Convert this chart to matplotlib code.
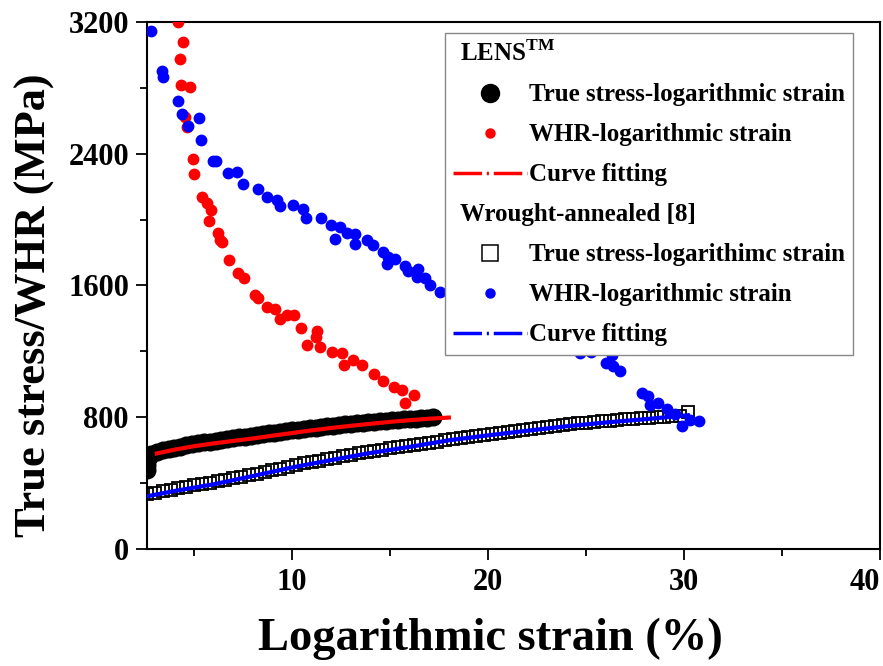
import matplotlib
matplotlib.use('Agg')
import matplotlib.pyplot as plt
from matplotlib.lines import Line2D
from matplotlib.ticker import MultipleLocator
from matplotlib.transforms import ScaledTranslation

plt.rcParams['font.family'] = ['Liberation Serif', 'DejaVu Serif']
plt.rcParams['font.weight'] = 'bold'
plt.rcParams['axes.labelweight'] = 'bold'
plt.rcParams['mathtext.fontset'] = 'custom'
plt.rcParams['mathtext.rm'] = 'Liberation Serif:bold'
plt.rcParams['mathtext.bf'] = 'Liberation Serif:bold'

# LENS: true stress - logarithmic strain (dense band of points)
lens_strain = [2.6, 2.6, 2.62, 2.68, 2.8, 3.1, 3.4, 3.7, 4.0, 4.3, 4.6, 4.9, 5.2, 5.5, 5.8,
               6.1, 6.4, 6.7, 7.0, 7.3, 7.6, 7.9, 8.2, 8.5, 8.8, 9.1, 9.4, 9.7, 10.0, 10.3,
               10.6, 10.9, 11.2, 11.5, 11.8, 12.1, 12.4, 12.7, 13.0, 13.3, 13.6, 13.9, 14.2,
               14.5, 14.8, 15.1, 15.4, 15.7, 16.0, 16.3, 16.6, 16.9, 17.2]
lens_stress = [480, 510, 540, 560, 578, 590, 598, 606, 614, 621, 629, 636, 641, 647, 652,
               657, 662, 667, 673, 678, 683, 688, 693, 697, 702, 707, 712, 716, 721, 725,
               729, 733, 737, 741, 745, 749, 752, 756, 759, 763, 766, 769, 772,
               775, 778, 781, 784, 787, 789, 792, 794, 797, 799]

# LENS: work hardening rate
lens_whr_strain = [4.17, 4.42, 4.30, 4.34, 4.80, 4.54, 4.63, 4.93, 5.02, 5.39, 5.64, 5.87, 5.77,
                   6.24, 6.33, 6.41, 6.79, 7.26, 7.57, 8.11, 8.28, 8.71, 9.13, 9.39, 9.73,
                   10.10, 10.46, 11.26, 11.21, 10.75, 11.43, 12.06, 12.54, 12.65, 13.13, 13.56,
                   14.18, 14.66, 15.20, 15.60, 15.77, 16.22]
lens_whr = [3200, 3080, 2975, 2820, 2805, 2625, 2565, 2370, 2275, 2135, 2098, 2057, 1990,
            1916, 1875, 1865, 1755, 1673, 1647, 1541, 1521, 1470, 1459, 1398, 1423,
            1419, 1343, 1321, 1290, 1236, 1226, 1199, 1187, 1120, 1148, 1120,
            1063, 1022, 981, 967, 889, 934]

# LENS: curve fitting
lens_fit_strain = [3.1, 4, 5, 6, 7, 8, 9, 10, 11, 12, 13, 14, 15, 16, 17, 18]
lens_fit = [580, 603, 624, 641, 656, 671, 688, 704, 720, 735, 748, 760, 772, 782, 791, 798]

# Wrought-annealed: true stress - logarithmic strain
wrought_strain = [2.6, 3.0, 3.4, 3.8, 4.2, 4.6, 5.0, 5.4, 5.8, 6.2, 6.6, 7.0, 7.4, 7.8, 8.2,
                  8.6, 9.0, 9.4, 9.8, 10.2, 10.6, 11.0, 11.4, 11.8, 12.2, 12.6, 13.0, 13.4,
                  13.8, 14.2, 14.6, 15.0, 15.4, 15.8, 16.2, 16.6, 17.0, 17.4, 17.8, 18.2,
                  18.6, 19.0, 19.4, 19.8, 20.2, 20.6, 21.0, 21.4, 21.8, 22.2, 22.6, 23.0,
                  23.4, 23.8, 24.2, 24.6, 25.0, 25.4, 25.8, 26.2, 26.6, 27.0, 27.4, 27.8,
                  28.2, 28.6, 29.0, 29.4, 29.8, 30.2]
wrought_stress = [335, 342, 350, 358, 368, 377, 386, 394, 402, 410, 419, 428, 437, 447, 457,
                  467, 477, 488, 500, 510, 520, 528, 536, 545, 554, 563, 572, 581,
                  590, 597, 604, 611, 618, 625, 632, 639, 645, 651, 659, 667,
                  675, 682, 688, 694, 700, 706, 712, 718, 724, 731, 737, 743,
                  749, 755, 759, 763, 767, 771, 775, 779, 783, 787, 790, 793,
                  796, 799, 802, 806, 810, 830]

# Wrought-annealed: work hardening rate
wrought_whr_strain = [2.81, 3.35, 3.43, 4.17, 4.41, 4.68, 5.27, 5.36, 5.95, 6.12, 6.75, 7.17,
                      7.48, 8.28, 8.71, 9.22, 9.39, 10.07, 10.58, 10.70, 11.48, 11.97, 12.45,
                      12.19, 12.79, 13.21, 13.21, 13.81, 14.15, 14.63, 14.91, 14.83, 15.26,
                      15.77, 15.93, 16.44, 16.36, 16.79, 17.04, 17.55, 24.10, 24.69, 25.26,
                      26.34, 26.02, 26.39, 26.73, 27.84, 28.18, 28.27, 28.69, 29.12, 29.54,
                      29.88, 30.31, 30.78]
wrought_whr = [3145, 2901, 2863, 2719, 2641, 2569, 2617, 2482, 2354, 2354, 2286, 2290,
               2218, 2185, 2136, 2118, 2081, 2090, 2063, 2008, 2008, 1969, 1953,
               1882, 1917, 1911, 1852, 1876, 1843, 1806, 1771, 1732, 1763,
               1721, 1690, 1703, 1651, 1643, 1605, 1561, 1215, 1193, 1197,
               1179, 1130, 1110, 1080, 947, 926, 875, 886, 849, 818,
               747, 784, 778]

# Wrought-annealed: curve fitting
wrought_fit_strain = [2.6, 4, 6, 8, 10, 12, 14, 16, 18, 20, 22, 24, 26, 28, 30.2]
wrought_fit = [320, 352, 393, 443, 495, 540, 583, 620, 660, 690, 718, 745, 768, 788, 812]

x_ticks = [10, 20, 30, 40]
y_ticks = [0, 800, 1600, 2400, 3200]

fig = plt.figure(figsize=(8.83, 6.66), dpi=100)
ax = fig.add_axes([0.1665, 0.1757, 0.8301, 0.7913])

ax.plot(lens_strain, lens_stress, 'o', color='black', ms=12, zorder=2)
ax.plot(lens_fit_strain, lens_fit, '-', color='red', lw=3, zorder=3)
ax.plot(wrought_strain, wrought_stress, 's', mfc='none', mec='black', mew=1.3, ms=9, zorder=2)
ax.plot(wrought_fit_strain, wrought_fit, '-', color='blue', lw=3, zorder=3)
ax.plot(lens_whr_strain, lens_whr, 'o', color='red', ms=7.5, zorder=4)
ax.plot(wrought_whr_strain, wrought_whr, 'o', color='blue', ms=7.5, zorder=4)

ax.set_xlim(2.6, 40)
ax.set_ylim(0, 3200)
ax.set_xticks(x_ticks)
ax.set_xticklabels([str(v) for v in x_ticks])
ax.get_xticklabels()[-1].set_horizontalalignment('right')
ax.set_yticks(y_ticks)
ax.xaxis.set_minor_locator(MultipleLocator(5))
ax.yaxis.set_minor_locator(MultipleLocator(400))
ax.tick_params(which='both', direction='out', top=False, right=False, labelsize=22, width=1.3)
ax.tick_params(which='major', length=8)
ax.tick_params(which='minor', length=5)
ax.tick_params(axis='x', pad=6)
ax.tick_params(axis='y', pad=5)
for spine in ax.spines.values():
    spine.set_linewidth(1.5)

ax.set_xlabel('Logarithmic strain (%)', fontsize=33.5)
ax.set_ylabel('True stress/WHR (MPa)', fontsize=32)
ax.xaxis.set_label_coords(0.468, -0.13)
ax.yaxis.set_label_coords(-0.125, 0.463)

# legend: group headers have no handle and sit flush left
header = Line2D([], [], linestyle='none')
fit_dash = (0, (8.2, 1.4, 0.6, 1.4))
handles = [
    header,
    Line2D([], [], ls='none', marker='o', color='black', ms=13),
    Line2D([], [], ls='none', marker='o', color='red', ms=6.5),
    Line2D([], [], color='red', lw=2.5, ls=fit_dash),
    header,
    Line2D([], [], ls='none', marker='s', mfc='none', mec='black', mew=1.1, ms=11),
    Line2D([], [], ls='none', marker='o', color='blue', ms=6.5),
    Line2D([], [], color='blue', lw=2.5, ls=fit_dash),
]
labels = [
    r'LENS$^{\mathrm{TM}}$',
    'True stress-logarithmic strain',
    'WHR-logarithmic strain',
    'Curve fitting',
    'Wrought-annealed [8]',
    'True stress-logarithimc strain',
    'WHR-logarithmic strain',
    'Curve fitting',
]
leg = ax.legend(handles, labels, loc='upper right', bbox_to_anchor=(0.963, 0.98),
                borderaxespad=0, fontsize=18, handlelength=2.96, handletextpad=0.05,
                labelspacing=0.68, borderpad=0.33, fancybox=False, framealpha=1,
                edgecolor='#888888')
leg.get_frame().set_linewidth(1.0)
shift = ScaledTranslation(-0.69, 0, fig.dpi_scale_trans)
for i in (0, 4):
    t = leg.get_texts()[i]
    t.set_transform(t.get_transform() + shift)

fig.savefig('out.png', dpi=100)
